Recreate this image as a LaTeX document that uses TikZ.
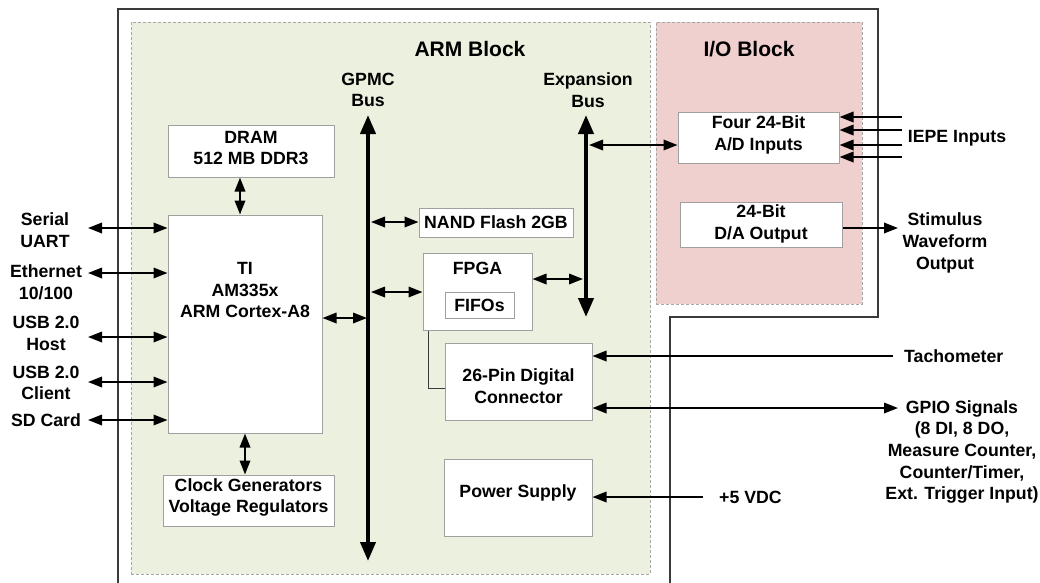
\documentclass[tikz,border=0pt]{standalone}
\usepackage{fontspec}
\setmainfont{Liberation Sans}
\usetikzlibrary{arrows.meta}
\definecolor{armgreen}{HTML}{EBF1DE}
\definecolor{iopink}{HTML}{F0D0CF}
\definecolor{dashgray}{HTML}{A6A6A6}
\definecolor{boxgray}{HTML}{A0A0A0}
\definecolor{framegray}{HTML}{3A3A3A}
\begin{document}
\begin{tikzpicture}[x=1pt,y=-1pt,
  font=\fontsize{17.7}{21.7}\selectfont\bfseries,
  region/.style={draw=dashgray, line width=0.8pt, dash pattern=on 3pt off 2pt, inner sep=0pt},
  box/.style={draw=boxgray, fill=white, line width=1pt, inner sep=0pt},
  txt/.style={align=center, inner sep=0pt},
  title/.style={txt, font=\fontsize{21}{25}\selectfont\bfseries},
  tipa/.tip={Triangle[length=14pt,width=10.5pt]},
  darr/.style={line width=1.8pt, tipa-tipa},
  sarr/.style={line width=1.8pt, -tipa},
  bus/.style={line width=4pt, {Triangle[length=19pt,width=15pt]}-{Triangle[length=19pt,width=15pt]}},
  wire/.style={draw=framegray, line width=1pt}
]
\useasboundingbox (0,0) rectangle (1040,582);
\fill[white] (0,0) rectangle (1040,582);

% outer frame
\draw[framegray, line width=1.5pt] (118,600) -- (118,9) -- (878,9) -- (878,317) -- (670,317) -- (670,600);

% regions
\node[region, fill=armgreen, minimum width=519pt, minimum height=552pt] (arm) at (390.5,298) {};
\node[region, fill=iopink, minimum width=206pt, minimum height=282pt] (io) at (759,163) {};
\node[title] (armt) at (470,49) {ARM Block};
\node[title] (iot) at (749,49) {I/O Block};

% bus labels
\node[txt] (gpmcl) at (368,90) {GPMC\\Bus};
\node[txt] (expl) at (588,90) {Expansion\\Bus};

% boxes
\node[box, minimum width=166pt, minimum height=52pt] (dram) at (251,151) {};
\node[txt] (dramt) at (251,148) {DRAM\\512 MB DDR3};
\node[box, minimum width=154pt, minimum height=218pt] (ti) at (245,324) {};
\node[txt] (tit) at (245,290) {TI\\AM335x\\ARM Cortex-A8};
\node[box, minimum width=171pt, minimum height=51pt] (clk) at (248.5,500.5) {};
\node[txt] (clkt) at (248.5,497.5) {Clock Generators\\Voltage Regulators};
\node[box, minimum width=154pt, minimum height=29pt] (nand) at (496,222.5) {};
\node[txt] (nandt) at (496,222) {NAND Flash 2GB};
\node[box, minimum width=109pt, minimum height=77pt] (fpga) at (477.5,291.5) {};
\node[txt] (fpgat) at (477.5,268) {FPGA};
\node[box, minimum width=69pt, minimum height=26pt] (fifo) at (479.5,305) {};
\node[txt] (fifot) at (479.5,305) {FIFOs};
\node[box, minimum width=147pt, minimum height=77pt] (conn) at (518.5,381.5) {};
\node[txt] (connt) at (518.5,386) {26-Pin Digital\\Connector};
\node[box, minimum width=148pt, minimum height=77pt] (power) at (518,497.5) {};
\node[txt] (powert) at (518,493) {Power Supply};
\node[box, minimum width=161pt, minimum height=51pt] (ad) at (758.5,137.5) {};
\node[txt] (adt) at (758.5,135) {Four 24-Bit\\A/D Inputs};
\node[box, minimum width=162pt, minimum height=45pt] (da) at (761,224.5) {};
\node[txt] (dat) at (761,224) {24-Bit\\D/A Output};

% buses
\coordinate (gtop) at (368,115);
\coordinate (gbot) at (368,561);
\coordinate (etop) at (586,115);
\coordinate (ebot) at (586,317);
\draw[bus] (gtop) -- (gbot);
\draw[bus] (etop) -- (ebot);

% internal connectors
\draw[darr] (dram.south -| 240,0) -- (ti.north -| 240,0);
\draw[darr] (ti.south -| 245,0) -- (clk.north -| 245,0);
\coordinate (g1) at (367,318);
\draw[darr] (g1 -| ti.east) -- (g1);
\coordinate (g2) at (371,222);
\draw[darr] (g2) -- (g2 -| nand.west);
\coordinate (g3) at (371,292);
\draw[darr] (g3) -- (g3 -| fpga.west);
\coordinate (e1) at (583,279);
\draw[darr] (e1 -| fpga.east) -- (e1);
\coordinate (e2) at (589,145);
\draw[darr] (e2) -- (e2 -| ad.west);
\coordinate (w1) at (428,388);
\draw[wire] (fpga.south -| w1) -- (w1) -- (w1 -| conn.west);

% left side
\coordinate (l1) at (88,228);
\coordinate (l2) at (88,273);
\coordinate (l3) at (88,337);
\coordinate (l4) at (88,382);
\coordinate (l5) at (88,420);
\foreach \c in {l1,l2,l3,l4,l5} \draw[darr] (\c) -- (\c -| ti.west);
\node[txt] (serial) at (45,230.5) {Serial\\UART};
\node[txt] (eth) at (46,282.5) {Ethernet\\10/100};
\node[txt] (usbh) at (46,333.5) {USB 2.0\\Host};
\node[txt] (usbc) at (46,383) {USB 2.0\\Client};
\node[txt] (sd) at (46,420) {SD Card};

% right side
\foreach \y/\n in {117/i1,130/i2,145/i3,157/i4} {
  \coordinate (\n) at (902,\y);
  \draw[sarr] (\n) -- (\n -| ad.east);
}
\node[txt] (iepe) at (957,138) {IEPE Inputs};
\coordinate (s1) at (898,228);
\draw[sarr] (s1 -| da.east) -- (s1);
\node[txt] (stim) at (945,243) {Stimulus\\Waveform\\Output};
\coordinate (t1) at (893,356);
\draw[sarr] (t1) -- (t1 -| conn.east);
\node[txt, anchor=west] (tach) at (904,356) {Tachometer};
\coordinate (p1) at (898,408);
\draw[darr] (p1 -| conn.east) -- (p1);
\node[txt, anchor=north] (gpio) at (962,400) {GPIO Signals\\(8 DI, 8 DO,\\Measure Counter,\\Counter/Timer,\\Ext. Trigger Input)};
\coordinate (v1) at (703,497);
\draw[sarr] (v1) -- (v1 -| power.east);
\node[txt, anchor=west] (vdc) at (719,497) {+5 VDC};
\end{tikzpicture}
\end{document}
